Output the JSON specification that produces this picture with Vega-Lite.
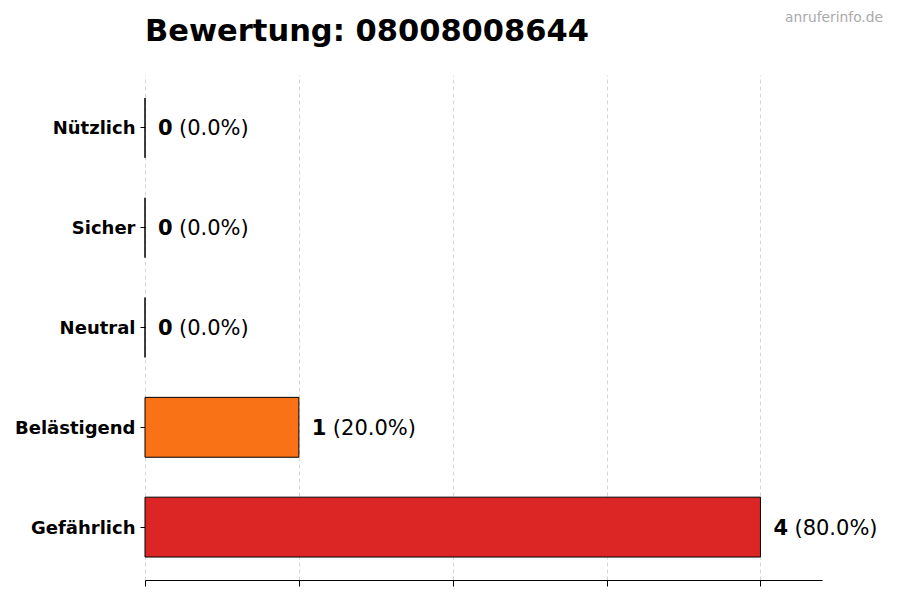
{
  "$schema": "https://vega.github.io/schema/vega-lite/v6.json",
  "width": 677,
  "height": 505,
  "autosize": "none",
  "padding": {"left": 145, "top": 75, "right": 78, "bottom": 20},
  "background": "white",
  "title": {
    "text": "Bewertung: 08008008644",
    "anchor": "start",
    "frame": "group",
    "font": "DejaVu Sans",
    "fontSize": 30.5,
    "fontWeight": "bold",
    "color": "black",
    "baseline": "alphabetic",
    "offset": -60
  },
  "config": {
    "view": {"stroke": null},
    "font": "DejaVu Sans"
  },
  "datasets": {
    "ratings": [
      {"cat": "Nützlich", "count": 0, "pct": "(0.0%)"},
      {"cat": "Sicher", "count": 0, "pct": "(0.0%)"},
      {"cat": "Neutral", "count": 0, "pct": "(0.0%)"},
      {"cat": "Belästigend", "count": 1, "pct": "(20.0%)"},
      {"cat": "Gefährlich", "count": 4, "pct": "(80.0%)"}
    ],
    "site": [{"name": "anruferinfo.de"}]
  },
  "layer": [
    {
      "data": {"name": "ratings"},
      "mark": {"type": "bar", "stroke": "black", "strokeWidth": 1},
      "encoding": {
        "y": {
          "field": "cat", "type": "nominal",
          "sort": ["Nützlich", "Sicher", "Neutral", "Belästigend", "Gefährlich"],
          "scale": {"paddingInner": 0.4, "paddingOuter": 0.23},
          "axis": {
            "title": null, "domain": false, "grid": false,
            "ticks": true, "tickColor": "black", "tickSize": 5,
            "labelFont": "DejaVu Sans", "labelFontSize": 18, "labelFontWeight": "bold",
            "labelColor": "black", "labelPadding": 5, "labelOffset": 1.5
          }
        },
        "x": {
          "field": "count", "type": "quantitative",
          "scale": {"domain": [0, 4.4], "nice": false, "zero": true},
          "axis": {
            "title": null, "labels": false, "values": [0, 1, 2, 3, 4],
            "domain": true, "domainColor": "black", "domainWidth": 1,
            "ticks": true, "tickColor": "black", "tickSize": 6,
            "grid": true, "gridColor": "#cccccc", "gridDash": [4, 3], "gridWidth": 0.8
          }
        },
        "color": {
          "field": "cat", "type": "nominal",
          "scale": {
            "domain": ["Nützlich", "Sicher", "Neutral", "Belästigend", "Gefährlich"],
            "range": ["#22c55e", "#3b82f6", "#9ca3af", "#f97316", "#dc2626"]
          },
          "legend": null
        }
      }
    },
    {
      "data": {"name": "ratings"},
      "mark": {"type": "text", "align": "left", "baseline": "middle", "dx": 13, "dy": 1.5, "font": "DejaVu Sans", "fontSize": 21, "fontWeight": "bold", "color": "black"},
      "encoding": {
        "y": {"field": "cat", "type": "nominal", "sort": ["Nützlich", "Sicher", "Neutral", "Belästigend", "Gefährlich"]},
        "x": {"field": "count", "type": "quantitative"},
        "text": {"field": "count", "type": "quantitative"}
      }
    },
    {
      "data": {"name": "ratings"},
      "mark": {"type": "text", "align": "left", "baseline": "middle", "dx": 34, "dy": 1.5, "font": "DejaVu Sans", "fontSize": 21, "color": "black"},
      "encoding": {
        "y": {"field": "cat", "type": "nominal", "sort": ["Nützlich", "Sicher", "Neutral", "Belästigend", "Gefährlich"]},
        "x": {"field": "count", "type": "quantitative"},
        "text": {"field": "pct", "type": "nominal"}
      }
    },
    {
      "data": {"name": "site"},
      "mark": {"type": "text", "align": "right", "baseline": "middle", "dx": 61, "font": "DejaVu Sans", "fontSize": 13.8, "color": "#aaaaaa"},
      "encoding": {
        "x": {"datum": 4.4, "type": "quantitative"},
        "y": {"value": -57},
        "text": {"field": "name", "type": "nominal"}
      }
    }
  ]
}
